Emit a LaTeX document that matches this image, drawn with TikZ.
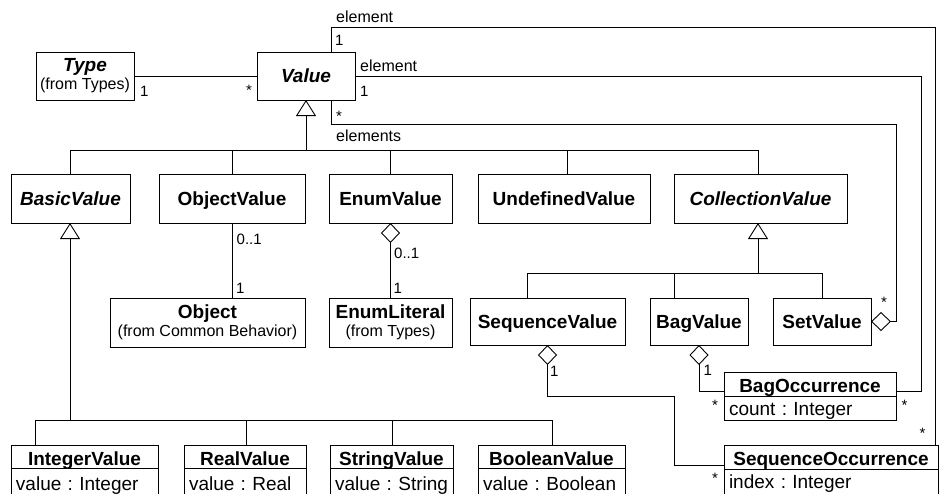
\documentclass[tikz,border=0pt]{standalone}
\usepackage{fontspec}
\setmainfont{Liberation Sans}
\usetikzlibrary{arrows.meta}
\frenchspacing

\tikzset{
  conn/.style={draw=black, line width=0.9pt},
  gen/.style={conn, -{Triangle[open, length=16pt, width=20pt]}},
  agg/.style={conn, {Diamond[open, length=20pt, width=19pt]}-},
  cls/.style={draw=black, line width=0.9pt, fill=white, inner sep=0pt, outer sep=0pt,
    align=center, font=\fontsize{19}{22}\selectfont\bfseries},
  abst/.style={font=\fontsize{19}{22}\selectfont\bfseries\itshape},
  onel/.style={text height=13.6pt, text depth=0pt},
  cmp/.style={text height=17pt, text depth=0pt},
  pkg/.style={font=\fontsize{16}{18}\selectfont},
  attrpt/.style={draw=black, line width=0.9pt, fill=white, inner xsep=5pt, inner ysep=0pt,
    outer sep=0pt, anchor=north west, align=left, text depth=4.5pt,
    font=\fontsize{19}{22}\selectfont},
  mult/.style={inner sep=0pt, anchor=base west, font=\fontsize{15}{18}\selectfont},
  role/.style={inner sep=0pt, anchor=base west, font=\fontsize{16}{18}\selectfont},
}

% class box from its left, top, right and bottom edges
\newcommand\classbox[7][]{%
  \node[cls,#1,minimum width={#5pt-#3pt},minimum height={#6pt-#4pt}]
    (#2) at ({(#3+#5)/2},{(#4+#6)/2}) {#7};}
% attribute compartment hanging below a class name
\newcommand\attrpart[6][]{%
  \node[attrpt,#1,text width={#5pt-#3pt-10pt}] (#2) at (#3,#4) {\mbox{#6}};}

\begin{document}
\begin{tikzpicture}[x=1pt,y=-1pt]
\useasboundingbox (0,0) rectangle (941,493);
\clip (0,0) rectangle (941,493);

% ---- classes
\classbox[pkg]{Type}{36}{52}{134}{100}{{\fontsize{19}{18}\selectfont\bfseries\itshape Type}\\(from Types)}
\classbox[abst,onel]{Value}{257}{52}{355}{100}{Value}

\classbox[abst,onel]{BasicV}{11}{174}{130}{223}{BasicValue}
\classbox[onel]{ObjV}{159}{174}{305}{223}{ObjectValue}
\classbox[onel]{EnumV}{329}{174}{452}{223}{EnumValue}
\classbox[onel]{UndV}{478}{174}{650}{223}{UndefinedValue}
\classbox[abst,onel]{CollV}{674}{174}{847}{223}{CollectionValue}

\classbox[pkg]{Obj}{110}{298}{305}{347}{{\fontsize{19}{18}\selectfont\bfseries Object}\\(from Common Behavior)}
\classbox[pkg]{EnumLit}{329}{298}{452}{347}{{\fontsize{19}{18}\selectfont\bfseries EnumLiteral}\\(from Types)}
\classbox[onel]{SeqV}{470}{298}{625}{345}{SequenceValue}
\classbox[onel]{BagV}{650}{298}{748}{345}{BagValue}
\classbox[onel]{SetV}{773}{298}{871}{345}{SetValue}

\classbox[cmp]{BagOccN}{724}{372}{896}{396}{BagOccurrence}
\attrpart[text height=19.5pt]{BagOccA}{724}{396}{896}{count : Integer}
\classbox[cmp]{SeqOccN}{724}{445}{938}{469}{SequenceOccurrence}
\attrpart[text height=19.5pt, text depth=10pt]{SeqOccA}{724}{469}{938}{index : Integer}

\classbox[cmp]{IntV}{11}{445}{158}{468}{IntegerValue}
\attrpart[text height=22pt]{IntVA}{11}{468}{158}{value : Integer}
\classbox[cmp]{RealV}{184}{445}{306}{468}{RealValue}
\attrpart[text height=22pt]{RealVA}{184}{468}{306}{value : Real}
\classbox[cmp]{StrV}{330}{445}{453}{468}{StringValue}
\attrpart[text height=22pt]{StrVA}{330}{468}{453}{value : String}
\classbox[cmp]{BoolV}{478}{445}{625}{468}{BooleanValue}
\attrpart[text height=22pt]{BoolVA}{478}{468}{625}{value : Boolean}

% ---- junction points
\coordinate (jV) at (306,150);
\coordinate (jB) at (70,150);
\coordinate (jO) at (232,150);
\coordinate (jE) at (390,150);
\coordinate (jU) at (567,150);
\coordinate (jC) at (758,150);

\coordinate (kB) at (70,420);
\coordinate (kI) at (35,420);
\coordinate (kR) at (246,420);
\coordinate (kS) at (392,420);
\coordinate (kBo) at (552,420);

\coordinate (mC) at (758,273);
\coordinate (mS) at (527,273);
\coordinate (mB) at (674,273);
\coordinate (mT) at (822,273);

\coordinate (eA) at (331,27);
\coordinate (eB) at (935,27);
\coordinate (fA) at (921,76);
\coordinate (fB) at (921,391);
\coordinate (gA) at (331,124);
\coordinate (gB) at (896,124);
\coordinate (hA) at (674,396);
\coordinate (hB) at (674,465);

% ---- generalisations
\draw[conn] (jB) -- (jC);
\draw[gen] (jV) -- (jV |- Value.south);
\foreach \j/\n in {jB/BasicV, jO/ObjV, jE/EnumV, jU/UndV, jC/CollV}
  \draw[conn] (\j) -- (\j |- \n.north);

\draw[conn] (kI) -- (kBo);
\draw[gen] (kB) -- (kB |- BasicV.south);
\foreach \j/\n in {kI/IntV, kR/RealV, kS/StrV, kBo/BoolV}
  \draw[conn] (\j) -- (\j |- \n.north);

\draw[conn] (mS) -- (mT);
\draw[gen] (mC) -- (mC |- CollV.south);
\foreach \j/\n in {mS/SeqV, mB/BagV, mT/SetV}
  \draw[conn] (\j) -- (\j |- \n.north);

% ---- associations
\draw[conn] (Type.east) -- (Value.west);
\draw[conn] (ObjV.south) -- (ObjV.south |- Obj.north);
\draw[agg] (EnumV.south) -- (EnumV.south |- EnumLit.north);

\draw[conn] (Value.north -| eA) -- (eA) -- (eB) -- (eB |- SeqOccN.north);
\draw[conn] (Value.east) -- (fA) -- (fB) -- (fB -| BagOccN.east);
\draw[agg] (SetV.east) -| (gB) -- (gA) -- (gA |- Value.south);
\draw[agg] (BagV.south) |- (BagOccN.west |- fB);
\draw[agg] (SeqV.south) |- (hA) -- (hB) -- (hB -| SeqOccN.west);

% ---- role names and multiplicities
\node[mult] (mT1) at (140,96.5) {1};
\node[mult] (mT2) at (246,95.7) {*};
\node[role] (rE1) at (336,22.3) {element};
\node[mult] (mE1) at (335,45.7) {1};
\node[role] (rE2) at (360,71.7) {element};
\node[mult] (mE2) at (360,96.7) {1};
\node[mult] (mE3) at (336,121.7) {*};
\node[role] (rE3) at (336,141) {elements};

\node[mult] (mO1) at (236.5,244.7) {0..1};
\node[mult] (mO2) at (236,293) {1};
\node[mult] (mN1) at (394,258.3) {0..1};
\node[mult] (mN2) at (393.5,293) {1};

\node[mult] (mS1) at (881,307.4) {*};
\node[mult] (mQ1) at (550,376.5) {1};
\node[mult] (mG1) at (703.5,375) {1};
\node[mult] (mG2) at (712,410.7) {*};
\node[mult] (mG3) at (901.5,410.7) {*};
\node[mult] (mQ2) at (919.5,438.7) {*};
\node[mult] (mQ3) at (712,483.7) {*};
\end{tikzpicture}
\end{document}
